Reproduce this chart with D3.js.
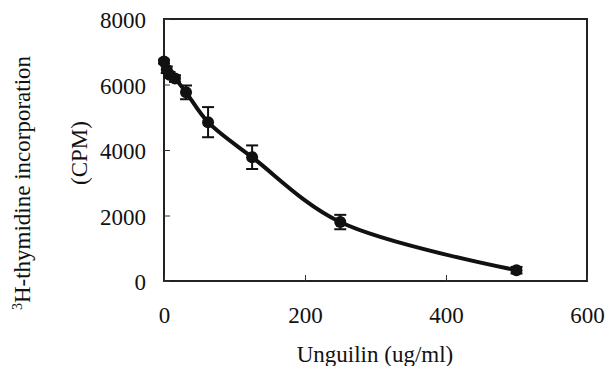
<!DOCTYPE html>
<html><head><meta charset="utf-8">
<script src="https://cdn.jsdelivr.net/npm/d3@7"></script>
<style>body{margin:0;background:#fff}svg{display:block}svg text{font-family:"Liberation Serif","Times New Roman",serif !important;fill:#111}</style>
</head><body>
<script>
const concentrations = [0, 3.9, 7.8, 15.6, 31.25, 62.5, 125, 250, 500];
const cpm = [6700, 6450, 6300, 6180, 5760, 4850, 3780, 1800, 330];
const cpmErr = [60, 100, 80, 100, 210, 460, 360, 220, 100];
const xTicks = [0, 200, 400, 600];
const yTicks = [0, 2000, 4000, 6000, 8000];
const xLabel = "Unguilin (ug/ml)";
const yLabel1 = "H-thymidine incorporation";
const yLabel2 = "(CPM)";

const W = 605, H = 366;
const m = {left:164, right:587, top:19, bottom:281};
const svg = d3.select("body").append("svg").attr("width", W).attr("height", H);
const x = d3.scaleLinear().domain([0,600]).range([m.left, m.right]);
const y = d3.scaleLinear().domain([0,8000]).range([m.bottom, m.top]);

// frame
svg.append("rect").attr("x", m.left).attr("y", m.top)
  .attr("width", m.right-m.left).attr("height", m.bottom-m.top)
  .attr("fill","none").attr("stroke","#222").attr("stroke-width",2);

// axes with inward ticks
const xAx = svg.append("g").attr("transform",`translate(0,${m.bottom})`)
  .call(d3.axisBottom(x).tickValues(xTicks).tickFormat(d3.format("d")).tickSizeInner(-6).tickSizeOuter(0).tickPadding(21));
const yAx = svg.append("g").attr("transform",`translate(${m.left},0)`)
  .call(d3.axisLeft(y).tickValues(yTicks).tickFormat(d3.format("d")).tickSizeInner(-6).tickSizeOuter(0).tickPadding(18));
[xAx, yAx].forEach(g => {
  g.attr("font-family", null).attr("font-size", null);
  g.select(".domain").remove();
  g.selectAll(".tick line").attr("stroke","#333").attr("stroke-width",1);
  g.selectAll(".tick text").style("font-size","23px").style("font-family","'Liberation Serif', serif").attr("fill","#111");
});
yAx.selectAll(".tick text").attr("dy","0.38em");
xAx.selectAll(".tick text").attr("dy","0.9em");

// axis titles
svg.append("text").attr("x", 375).attr("y", 362).attr("text-anchor","middle")
  .attr("font-size",23).text(xLabel);
const t1 = svg.append("text").attr("transform","translate(30,183) rotate(-90)")
  .attr("text-anchor","middle").attr("font-size",23);
t1.append("tspan").attr("font-size",14).attr("dy","-0.55em").text("3");
t1.append("tspan").attr("dy","0.32em").text(yLabel1);
svg.append("text").attr("transform","translate(87,153) rotate(-90)")
  .attr("text-anchor","middle").attr("font-size",23).text(yLabel2);

const data = concentrations.map((c,i)=>({c, v:cpm[i], e:cpmErr[i]}));

// curve
svg.append("path").datum(data)
  .attr("d", d3.line().x(d=>x(d.c)).y(d=>y(d.v)).curve(d3.curveCatmullRom.alpha(0.5)))
  .attr("fill","none").attr("stroke","#111").attr("stroke-width",4).attr("stroke-linejoin","round");

// error bars
const eb = svg.append("g").attr("stroke","#111").attr("stroke-width",2);
data.forEach(d=>{
  eb.append("line").attr("x1",x(d.c)).attr("x2",x(d.c)).attr("y1",y(d.v+d.e)).attr("y2",y(d.v-d.e));
  eb.append("line").attr("x1",x(d.c)-6).attr("x2",x(d.c)+6).attr("y1",y(d.v+d.e)).attr("y2",y(d.v+d.e));
  eb.append("line").attr("x1",x(d.c)-6).attr("x2",x(d.c)+6).attr("y1",y(d.v-d.e)).attr("y2",y(d.v-d.e));
});

// markers
svg.append("g").selectAll("circle").data(data).join("circle")
  .attr("cx",d=>x(d.c)).attr("cy",d=>y(d.v)).attr("r",6).attr("fill","#111");
</script>
</body></html>
